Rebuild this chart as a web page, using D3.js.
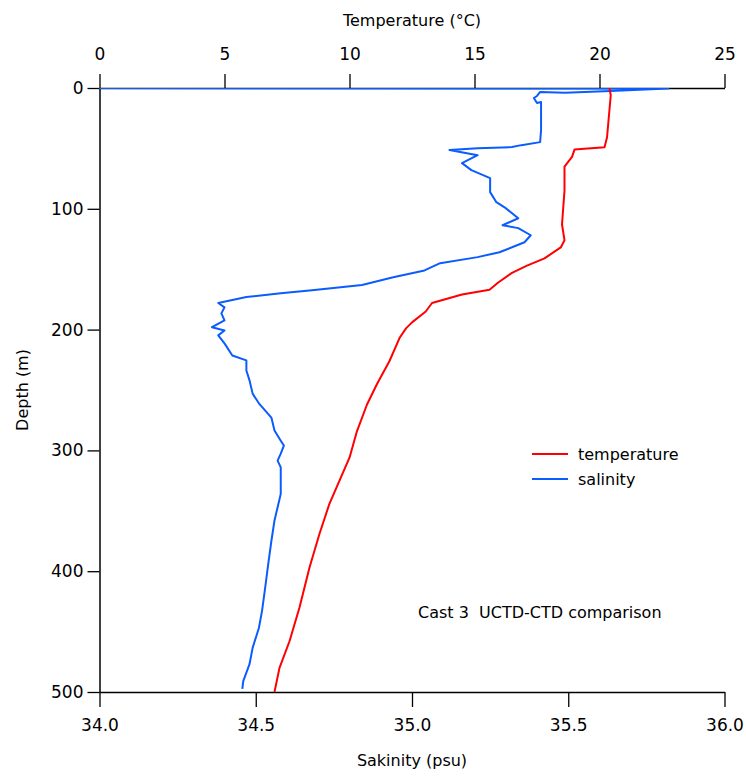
<!DOCTYPE html>
<html><head><meta charset="utf-8">
<script src="https://cdn.jsdelivr.net/npm/d3@7"></script>
<style>body{margin:0;background:#fff}svg{display:block}text{font-family:"DejaVu Sans",sans-serif;fill:#000}</style>
</head><body><svg id="c" width="746" height="776"></svg>
<script>
// Temperature profile (depth m, °C)
const tempDepth = [0, 6, 41, 49, 51, 57, 65, 76, 85, 113, 126, 132, 141, 147, 153, 161, 167, 171, 178, 185, 194, 199, 207, 226, 245, 262, 284, 306, 325, 344, 369, 397, 430, 458, 480, 500];
const tempValue = [20.4, 20.45, 20.3, 20.2, 19.0, 18.9, 18.6, 18.6, 18.6, 18.5, 18.6, 18.45, 17.8, 17.1, 16.5, 15.95, 15.6, 14.5, 13.3, 13.05, 12.5, 12.26, 12.0, 11.6, 11.1, 10.7, 10.3, 10.0, 9.6, 9.2, 8.8, 8.4, 8.0, 7.6, 7.2, 7.0];
// Salinity profile (depth m, psu)
const salDepth = [0, 0.5, 2.5, 4, 3.3, 6.6, 8.3, 12.4, 11.6, 34.8, 44.8, 47.3, 48.9, 49.8, 51.4, 55.6, 62.2, 68, 74.6, 86.2, 94.5, 99.5, 107.8, 113.6, 116, 121.9, 127.7, 136, 140, 145, 151, 156.7, 163, 167.5, 170, 173, 178, 181.6, 186.6, 192.4, 198, 200.7, 204.8, 211.4, 221.4, 225.5, 233.8, 242, 253, 261, 272.8, 283.6, 292, 296, 302.7, 308.5, 314, 336, 347, 358, 375, 394, 414, 433, 447, 463.5, 477, 491, 497.5];
const salValue = [33.9, 35.82, 35.635, 35.49, 35.41, 35.40, 35.39, 35.40, 35.413, 35.413, 35.41, 35.35, 35.32, 35.21, 35.12, 35.21, 35.16, 35.19, 35.25, 35.25, 35.27, 35.30, 35.34, 35.29, 35.34, 35.38, 35.36, 35.28, 35.21, 35.09, 35.04, 34.94, 34.84, 34.68, 34.58, 34.47, 34.38, 34.40, 34.39, 34.40, 34.36, 34.40, 34.38, 34.40, 34.425, 34.47, 34.47, 34.48, 34.49, 34.51, 34.55, 34.56, 34.58, 34.59, 34.58, 34.57, 34.58, 34.58, 34.57, 34.56, 34.55, 34.54, 34.53, 34.52, 34.51, 34.49, 34.48, 34.46, 34.457];
// Ticks
const depthTicks = [0, 100, 200, 300, 400, 500];
const tempTicks = [0, 5, 10, 15, 20, 25];
const salTicks = [34.0, 34.5, 35.0, 35.5, 36.0];
const seriesNames = ["temperature", "salinity"];
const seriesColors = ["#ff0000", "#0a5cff"];

const svg = d3.select("#c");
const L = 99.5, R = 724.5, T = 88, B = 692;
const y = d3.scaleLinear().domain([0, 500]).range([T, B]);
const xT = d3.scaleLinear().domain([0, 25]).range([L, R]);
const xS = d3.scaleLinear().domain([34, 36]).range([L, R]);

svg.append("defs").append("clipPath").attr("id", "clip")
  .append("rect").attr("x", L).attr("y", T).attr("width", R - L).attr("height", B - T);

const styleAxis = (g, fs) => {
  g.selectAll(".domain").attr("stroke", "#000").attr("stroke-width", 1.5);
  g.selectAll(".tick line").attr("stroke", "#000").attr("stroke-width", 1.3);
  g.selectAll(".tick text").style("font-size", fs + "px").attr("fill", "#000");
};

const gl = svg.append("g").attr("transform", `translate(${L},0)`)
  .call(d3.axisLeft(y).tickValues(depthTicks).tickSize(12).tickSizeOuter(0).tickPadding(4).tickFormat(d3.format("d")));
styleAxis(gl, 17);
const gt = svg.append("g").attr("transform", `translate(0,${T})`)
  .call(d3.axisTop(xT).tickValues(tempTicks).tickSize(14).tickSizeOuter(0).tickPadding(14).tickFormat(d3.format("d")));
styleAxis(gt, 17);
const gb = svg.append("g").attr("transform", `translate(0,${B})`)
  .call(d3.axisBottom(xS).tickValues(salTicks).tickSize(15).tickSizeOuter(0).tickPadding(12).tickFormat(d3.format(".1f")));
styleAxis(gb, 17);

const plot = svg.append("g").attr("clip-path", "url(#clip)");
const tempData = tempDepth.map((d, i) => [d, tempValue[i]]);
const salData = salDepth.map((d, i) => [d, salValue[i]]);
plot.append("path").datum(salData)
  .attr("d", d3.line().x(d => xS(d[1])).y(d => y(d[0])))
  .attr("fill", "none").attr("stroke", seriesColors[1]).attr("stroke-width", 2).attr("stroke-linejoin", "round");
plot.append("path").datum(tempData)
  .attr("d", d3.line().x(d => xT(d[1])).y(d => y(d[0])))
  .attr("fill", "none").attr("stroke", seriesColors[0]).attr("stroke-width", 2).attr("stroke-linejoin", "round");

// Axis titles
svg.append("text").attr("x", (L + R) / 2).attr("y", 26).attr("text-anchor", "middle").style("font-size", "16px").text("Temperature (°C)");
svg.append("text").attr("x", (L + R) / 2).attr("y", 766).attr("text-anchor", "middle").style("font-size", "16px").text("Sakinity (psu)");
svg.append("text").attr("transform", `translate(28,${(T + B) / 2}) rotate(-90)`).attr("text-anchor", "middle").style("font-size", "16px").text("Depth (m)");

// Legend
const lg = svg.append("g");
seriesNames.forEach((n, i) => {
  const yy = 454 + i * 25;
  lg.append("line").attr("x1", 532).attr("x2", 568).attr("y1", yy).attr("y2", yy).attr("stroke", seriesColors[i]).attr("stroke-width", 2);
  lg.append("text").attr("x", 578).attr("y", yy + 6).style("font-size", "16px").text(n);
});
svg.append("text").attr("x", 418).attr("y", 618).style("font-size", "16px").attr("xml:space", "preserve").text("Cast 3  UCTD-CTD comparison");
</script></body></html>
